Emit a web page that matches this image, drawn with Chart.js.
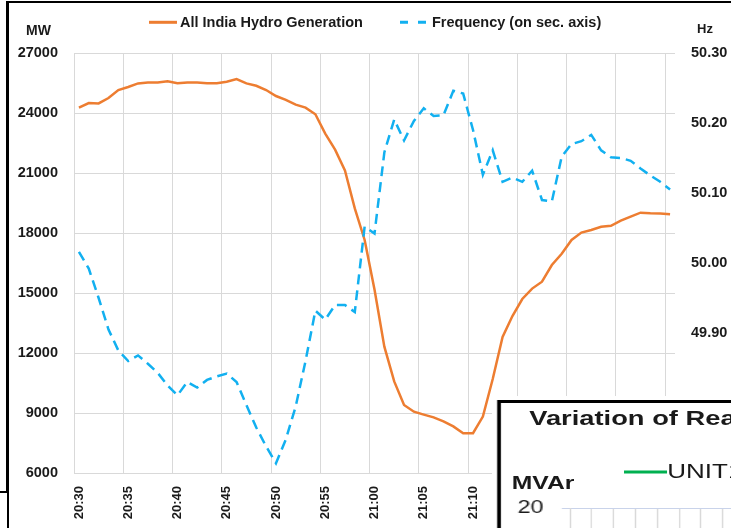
<!DOCTYPE html>
<html>
<head>
<meta charset="utf-8">
<script src="https://cdn.jsdelivr.net/npm/chart.js@4.4.1/dist/chart.umd.min.js"></script>
<style>
  html, body { margin: 0; padding: 0; background: #fff; }
  body { width: 731px; height: 528px; overflow: hidden; position: relative;
         font-family: "Liberation Sans", Arial, sans-serif; color: #1a1a1a; }
  #mainChart { position: absolute; left: 0; top: 0; }
  .frame { position: absolute; background: #000; }
  .lbl { position: absolute; font-weight: bold; line-height: 1; white-space: nowrap; }
  .key { position: absolute; left: 0; top: 0; }
  #inset { position: absolute; left: 497px; top: 400px; width: 1100px; height: 330px;
           border: 3px solid #000; outline: 4px solid #fff; background: #fff;
           transform: scaleX(1.3); transform-origin: 0 0; }
  #inset canvas { position: absolute; left: 0; top: 0; }
</style>
</head>
<body>
<canvas id="mainChart" width="731" height="528"></canvas>

<div class="frame" style="left:6px;top:1px;width:725px;height:2px"></div>
<div class="frame" style="left:6px;top:1px;width:3px;height:491px"></div>
<div class="frame" style="left:0;top:491px;width:9px;height:1.5px"></div>
<div class="frame" style="left:7px;top:491px;width:1.5px;height:37px"></div>

<div class="lbl" style="left:26px;top:23px;font-size:14px">MW</div>
<div class="lbl" style="left:697px;top:22px;font-size:13px">Hz</div>

<svg class="key" width="731" height="40">
  <line x1="149" y1="22.3" x2="177" y2="22.3" stroke="#ED7D31" stroke-width="3"/>
  <line x1="400" y1="22.3" x2="430" y2="22.3" stroke="#12B0F0" stroke-width="3" stroke-dasharray="8 10"/>
</svg>
<div class="lbl" style="left:180px;top:14.5px;font-size:14.5px">All India Hydro Generation</div>
<div class="lbl" style="left:432px;top:14.5px;font-size:14.5px">Frequency (on sec. axis)</div>

<div id="inset">
  <canvas id="insetChart" width="1081" height="330"></canvas>
  <div class="lbl" style="left:21.8px;top:4.2px;font-size:21px">Variation of Reactive Power</div>
  <svg class="key" width="200" height="100">
    <line x1="94.7" y1="69" x2="127.8" y2="69" stroke="#00B050" stroke-width="3"/>
  </svg>
  <div class="lbl" style="left:8.3px;top:70px;font-size:19px">MVAr</div>
  <div class="lbl" style="left:128px;top:58.4px;font-size:20px;font-weight:normal">UNIT1</div>
</div>

<script>
Chart.defaults.font.family = '"Liberation Sans", Arial, sans-serif';

// minute-by-minute categories
const timeLabels = [
  '20:30','20:31','20:32','20:33','20:34','20:35','20:36','20:37','20:38','20:39',
  '20:40','20:41','20:42','20:43','20:44','20:45','20:46','20:47','20:48','20:49',
  '20:50','20:51','20:52','20:53','20:54','20:55','20:56','20:57','20:58','20:59',
  '21:00','21:01','21:02','21:03','21:04','21:05','21:06','21:07','21:08','21:09',
  '21:10','21:11','21:12','21:13','21:14','21:15','21:16','21:17','21:18','21:19',
  '21:20','21:21','21:22','21:23','21:24','21:25','21:26','21:27','21:28','21:29',
  '21:30'
];
// labels actually printed on the time axis
const shownTimes = ['20:30','20:35','20:40','20:45','20:50','20:55','21:00',
                    '21:05','21:10','21:15','21:20','21:25','21:30'];

const hydroMW = [
  24265, 24500, 24480, 24750, 25150, 25300, 25480, 25520, 25530, 25590,
  25490, 25530, 25520, 25490, 25490, 25560, 25700, 25480, 25360, 25150,
  24850, 24660, 24420, 24270, 23935, 22970, 22170, 21130, 19230, 17650,
  15170, 12315, 10580, 9400, 9065, 8920, 8780, 8580, 8330, 7985,
  7990, 8820, 10700, 12800, 13850, 14700, 15220, 15565, 16400, 16965,
  17650, 18020, 18150, 18315, 18360, 18620, 18815, 19015, 18985, 18970,
  18935
];

const frequencyHz = [
  50.016, 49.992, 49.950, 49.905, 49.875, 49.860, 49.868, 49.856, 49.843, 49.825,
  49.811, 49.830, 49.822, 49.833, 49.838, 49.842, 49.830, 49.797, 49.765, 49.738,
  49.714, 49.748, 49.795, 49.860, 49.932, 49.919, 49.940, 49.940, 49.930, 50.052,
  50.042, 50.158, 50.205, 50.175, 50.203, 50.221, 50.210, 50.211, 50.246, 50.242,
  50.190, 50.126, 50.161, 50.116, 50.122, 50.116, 50.132, 50.090, 50.088, 50.152,
  50.170, 50.174, 50.183, 50.161, 50.151, 50.150, 50.146, 50.135, 50.125, 50.116,
  50.105
];

// inset chart is cut off below its top gridline, no values are visible
const unit1MVAr = [];

const textColor = '#1a1a1a';
const gridColor = '#d9d9d9';

new Chart(document.getElementById('mainChart'), {
  type: 'line',
  data: {
    labels: timeLabels,
    datasets: [{
      label: 'All India Hydro Generation',
      data: hydroMW,
      borderColor: '#ED7D31',
      borderWidth: 2.5,
      pointRadius: 0,
      yAxisID: 'y',
      order: 2
    }, {
      label: 'Frequency (on sec. axis)',
      data: frequencyHz,
      borderColor: '#12B0F0',
      borderWidth: 2.5,
      borderDash: [10, 6],
      pointRadius: 0,
      yAxisID: 'y1',
      order: 1
    }]
  },
  options: {
    responsive: false,
    animation: false,
    layout: { padding: { top: 53, left: 0, right: 0, bottom: 0 } },
    plugins: { legend: { display: false }, tooltip: { enabled: false } },
    scales: {
      x: {
        offset: true,
        grid: {
          offset: true,
          drawTicks: false,
          color: c => shownTimes.includes(timeLabels[c.index]) ? gridColor : 'rgba(0,0,0,0)'
        },
        border: { color: gridColor },
        ticks: {
          autoSkip: false,
          minRotation: 90,
          maxRotation: 90,
          padding: 13,
          color: textColor,
          font: { size: 13, weight: 'bold' },
          callback: (v, i) => shownTimes.includes(timeLabels[i]) ? timeLabels[i] : ''
        },
        afterFit: s => { s.height = 55; }
      },
      y: {
        min: 6000,
        max: 27000,
        ticks: {
          stepSize: 3000, padding: 16, color: textColor,
          font: { size: 14.5, weight: 'bold' },
          callback: v => String(v)
        },
        grid: { color: gridColor, drawTicks: false },
        border: { color: gridColor },
        afterFit: s => { s.width = 74; }
      },
      y1: {
        position: 'right',
        min: 49.7,
        max: 50.3,
        ticks: {
          stepSize: 0.1, padding: 16, color: textColor,
          font: { size: 14.5, weight: 'bold' },
          callback: v => v.toFixed(2)
        },
        grid: { drawOnChartArea: false, drawTicks: false },
        border: { display: false },
        afterFit: s => { s.width = 56; }
      }
    }
  }
});

new Chart(document.getElementById('insetChart'), {
  type: 'line',
  data: {
    labels: timeLabels,
    datasets: [{ label: 'UNIT1', data: unit1MVAr, borderColor: '#00B050', borderWidth: 3, pointRadius: 0 }]
  },
  options: {
    responsive: false,
    animation: false,
    layout: { padding: { top: 105.3, left: 0, right: 20, bottom: 0 } },
    plugins: { legend: { display: false }, tooltip: { enabled: false } },
    scales: {
      x: {
        ticks: { display: false, autoSkip: false },
        grid: { color: gridColor, drawTicks: false },
        border: { color: gridColor }
      },
      y: {
        min: -20,
        max: 20,
        ticks: { stepSize: 10, padding: 14, color: textColor, font: { size: 18 } },
        grid: { color: '#c9d3ea', tickLength: 6.4 },
        border: { color: gridColor },
        afterFit: s => { s.width = 53.2; }
      }
    }
  }
});
</script>
</body>
</html>
